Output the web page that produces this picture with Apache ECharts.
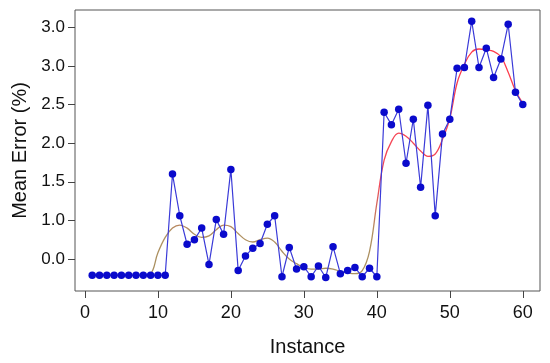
<!DOCTYPE html>
<html>
<head>
<meta charset="utf-8">
<script src="https://cdn.jsdelivr.net/npm/echarts@6/dist/echarts.min.js"></script>
<style>html,body{margin:0;padding:0;background:#fff}#c{width:550px;height:363px}</style>
</head>
<body>
<div id="c"></div>
<script>
// Instance numbers 1..60
var instances = [];
for (var i = 1; i <= 60; i++) instances.push(i);

// Measured series (plotted in the axis's linear units; tick labels below)
var meanError = [-0.21,-0.21,-0.21,-0.21,-0.21,-0.21,-0.21,-0.21,-0.21,-0.21,
  -0.21,1.10,0.56,0.19,0.25,0.40,-0.07,0.51,0.32,1.16,
  -0.15,0.04,0.14,0.20,0.45,0.56,-0.23,0.15,-0.13,-0.10,
  -0.23,-0.09,-0.24,0.16,-0.19,-0.15,-0.11,-0.23,-0.12,-0.23,
  1.90,1.74,1.94,1.24,1.81,0.93,1.99,0.56,1.62,1.81,
  2.47,2.48,3.08,2.48,2.73,2.35,2.59,3.04,2.16,2.00];

// Smoothed trend
var smoothTrend = [-0.21,-0.21,-0.21,-0.21,-0.21,-0.21,-0.21,-0.21,-0.19,0.08,
  0.28,0.40,0.44,0.40,0.32,0.28,0.30,0.38,0.44,0.42,
  0.33,0.25,0.22,0.25,0.27,0.22,0.10,0.00,-0.06,-0.11,
  -0.13,-0.13,-0.12,-0.13,-0.16,-0.18,-0.19,-0.15,0.10,0.72,
  1.28,1.52,1.63,1.59,1.50,1.40,1.33,1.36,1.55,1.82,
  2.28,2.52,2.68,2.72,2.71,2.69,2.62,2.42,2.18,2.02];

var xTicks = [0,10,20,30,40,50,60];
var yTicks = [0,0.5,1.0,1.5,2.0,2.5,3.0];
var yTickLabels = ["0.0","1.0","1.5","2.0","2.5","3.0","3.0"];

var chart = echarts.init(document.getElementById('c'));
var font = 'Liberation Sans, Arial, Helvetica, sans-serif';
chart.setOption({
  animation: false,
  backgroundColor: '#fff',
  grid: {left: 75, right: 10, top: 10, bottom: 72, show: true, borderColor: '#555', borderWidth: 1, backgroundColor: 'transparent'},
  xAxis: {
    type: 'value', min: -1.36, max: 62.36,
    name: 'Instance', nameLocation: 'middle', nameGap: 46,
    nameTextStyle: {fontSize: 20, color: '#111', fontFamily: font},
    axisLine: {show: false, onZero: false},
    splitLine: {show: false},
    axisTick: {show: true, length: 7, customValues: xTicks, lineStyle: {color: '#444'}},
    axisLabel: {customValues: xTicks, fontSize: 18, color: '#111', fontFamily: font, margin: 13}
  },
  yAxis: {
    type: 'value', min: -0.4145, max: 3.225,
    name: 'Mean Error (%)', nameLocation: 'middle', nameGap: 44,
    nameTextStyle: {fontSize: 20, color: '#111', fontFamily: font},
    axisLine: {show: false, onZero: false},
    splitLine: {show: false},
    axisTick: {show: true, length: 7, customValues: yTicks, lineStyle: {color: '#444'}},
    axisLabel: {customValues: yTicks, fontSize: 17, color: '#111', fontFamily: font, margin: 10,
      formatter: function (v) {
        for (var k = 0; k < yTicks.length; k++) if (Math.abs(yTicks[k] - v) < 1e-6) return yTickLabels[k];
        return '';
      }}
  },
  series: [
    {
      type: 'line', smooth: 0.4, showSymbol: false, z: 2,
      data: instances.map(function (x, i) { return [x, smoothTrend[i]]; }),
      lineStyle: {width: 1.3, color: new echarts.graphic.LinearGradient(0, 0, 0, 1, [
        {offset: 0, color: '#ff3a4a'},
        {offset: 0.6, color: '#f04a5a'},
        {offset: 0.8, color: '#b09060'},
        {offset: 1, color: '#a89060'}
      ])}
    },
    {
      type: 'line', z: 3,
      data: instances.map(function (x, i) { return [x, meanError[i]]; }),
      symbol: 'circle', symbolSize: 7.5,
      itemStyle: {color: '#0a0acc'},
      lineStyle: {width: 1.2, color: '#3a3ad8'}
    }
  ]
});
</script>
</body>
</html>
